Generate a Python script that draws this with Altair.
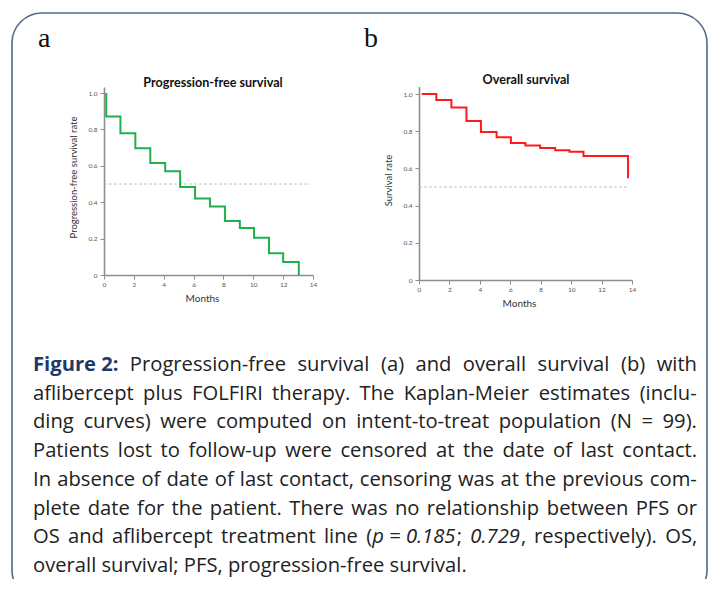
import altair as alt
import pandas as pd

# ---------------- data ----------------
pfs_months = [0.15, 0.15, 1.1, 2.1, 3.1, 4.1, 5.1, 6.1, 7.1, 8.1, 9.1, 10.05, 11.05, 12.0, 13.05]
pfs_rate = [1.0, 0.871, 0.779, 0.697, 0.616, 0.570, 0.483, 0.421, 0.376, 0.297, 0.258, 0.205, 0.120, 0.072, 0.0]

os_months = [0.18, 1.14, 2.13, 3.12, 4.07, 5.1, 6.04, 6.99, 7.96, 8.95, 9.89, 10.81, 13.74]
os_rate = [1.0, 0.968, 0.928, 0.855, 0.796, 0.767, 0.737, 0.723, 0.710, 0.698, 0.689, 0.667, 0.547]

x_ticks = [0, 2, 4, 6, 8, 10, 12, 14]
y_ticks = [0, 0.2, 0.4, 0.6, 0.8, 1.0]
median_level = [0.5]
median_span = [0, 13.8]

panel_titles = ["Progression-free survival", "Overall survival"]
y_titles = ["Progression-free survival rate", "Survival rate"]
x_title = "Months"
panel_letters = ["a", "b"]

caption_label = "Figure 2:"
caption_text = [
    "Progression-free survival (a) and overall survival (b) with",
    "aflibercept plus FOLFIRI therapy. The Kaplan-Meier estimates (inclu-",
    "ding curves) were computed on intent-to-treat population (N = 99).",
    "Patients lost to follow-up were censored at the date of last contact.",
    "In absence of date of last contact, censoring was at the previous com-",
    "plete date for the patient. There was no relationship between PFS or",
    None,
    "overall survival; PFS, progression-free survival.",
]
# line 7 with italic p-values: units separated by spaces, pieces inside a unit are glued
line7_units = [
    [("OS", "normal")], [("and", "normal")], [("aflibercept", "normal")],
    [("treatment", "normal")], [("line", "normal")],
    [("(", "normal"), ("p = 0.185", "italic"), (";", "normal")],
    [("0.729", "italic"), (",", "normal")],
    [("respectively).", "normal")], [("OS,", "normal")],
]

# ---------------- layout ----------------
W, H = 701, 571
LBL_FONT = "Lato"
CAP_FONT = "Open Sans"
CAP_SIZE = 20.2

# approximate Open Sans advance widths (per 1000 em) for word layout
_w = {" ": 260, "(": 296, ")": 296, ",": 245, "-": 322, ".": 266, ":": 266, ";": 266, "=": 571,
      "A": 633, "B": 648, "C": 631, "D": 729, "E": 556, "F": 516, "G": 728, "H": 738, "I": 279,
      "J": 267, "K": 613, "L": 519, "M": 907, "N": 754, "O": 779, "P": 602, "R": 618, "S": 549,
      "T": 553, "U": 731, "a": 556, "b": 613, "c": 476, "d": 613, "e": 561, "f": 336, "g": 541,
      "h": 615, "i": 258, "j": 258, "k": 536, "l": 258, "m": 935, "n": 615, "o": 601, "p": 613,
      "q": 613, "r": 408, "s": 479, "t": 353, "u": 615, "v": 500, "w": 772, "x": 520, "y": 500,
      "z": 468}
_k = {"bold": 1.06, "italic": 0.985, "normal": 1.0}


def tw(s, size, style="normal"):
    return sum(_w.get(c, 571) for c in s) / 1000.0 * size * _k[style]


pfs_df = pd.DataFrame({"month": pfs_months, "rate": pfs_rate, "i": list(range(len(pfs_months)))})
os_df = pd.DataFrame({"month": os_months, "rate": os_rate, "i": list(range(len(os_months)))})
med_df = pd.DataFrame({"x0": [median_span[0]], "x1": [median_span[1]], "y": median_level})
one = pd.DataFrame({"k": [0]})

fmt = "datum.value == 0 ? '0' : format(datum.value, '.1f')"


def panel(df, color, xr, yr, ydom_top, y_title, x_title_x, y_title_y):
    xs = alt.Scale(domain=[0, 14], range=xr, nice=False, zero=False)
    ys = alt.Scale(domain=[0, ydom_top], range=yr, nice=False, zero=False)
    common = dict(
        domainColor="#8f8f8f", domainWidth=1.6, tickColor="#8f8f8f", tickWidth=1,
        tickSize=4, labelFont=LBL_FONT, labelFontSize=6.5, labelColor="#555555",
        titleFont=LBL_FONT, titleFontWeight="normal", titleColor="#333333",
        grid=False, labelFlush=False,
    )
    xaxis = alt.Axis(
        orient="bottom", offset=yr[0] - H, values=x_ticks,
        labelPadding=2, title=x_title, titleFontSize=10,
        titleX=x_title_x, titleY=23, titleBaseline="middle", **common,
    )
    yaxis = alt.Axis(
        orient="left", offset=-xr[0], values=y_ticks, labelExpr=fmt,
        labelPadding=3, title=y_title, titleFontSize=9.5,
        titleX=-31, titleY=y_title_y, titleBaseline="middle", **common,
    )
    line = alt.Chart(df).mark_line(
        interpolate="step-after", color=color, strokeWidth=2
    ).encode(
        x=alt.X("month:Q", scale=xs, axis=xaxis),
        y=alt.Y("rate:Q", scale=ys, axis=yaxis),
        order="i:Q",
    )
    med = alt.Chart(med_df).mark_rule(
        color="#b5b5b5", strokeWidth=0.8, strokeDash=[3, 2]
    ).encode(
        x=alt.X("x0:Q", scale=xs, axis=None),
        x2="x1:Q",
        y=alt.Y("y:Q", scale=ys, axis=None),
    )
    return [med, line]


pA = panel(pfs_df, "#1fb04b", [96, 305], [267, 79], 1.033, y_titles[0], 194, 169)
pB = panel(os_df, "#ff1a1a", [411, 624], [272, 78.6], 1.04, y_titles[1], 511, 172)

frame = alt.Chart(one).mark_rect(
    cornerRadius=30, fillOpacity=0, stroke="#56688a", strokeWidth=1.6
).encode(x=alt.value(4), x2=alt.value(699), y=alt.value(5), y2=alt.value(592))


def txt(s, x, y, size, font, weight="normal", color="#222222", align="left",
        baseline="middle", style="normal"):
    return alt.Chart(one).mark_text(
        text=s, font=font, fontSize=size, fontWeight=weight, color=color,
        align=align, baseline=baseline, fontStyle=style,
    ).encode(x=alt.value(x), y=alt.value(y))


texts = [
    txt(panel_letters[0], 30, 39, 28, "Liberation Serif", baseline="alphabetic", color="#111111"),
    txt(panel_letters[1], 356, 39, 28, "Liberation Serif", baseline="alphabetic", color="#111111"),
    txt(panel_titles[0], 205, 75, 12.6, LBL_FONT, weight="bold", color="#111111", align="center"),
    txt(panel_titles[1], 518, 72, 12.6, LBL_FONT, weight="bold", color="#111111", align="center"),
]

# ---- caption laid out word by word (justified, last line ragged) ----
LEFT, RIGHT = 25, 689
words = []  # (text, x, y, style)
for li, line_text in enumerate(caption_text):
    y = 357 + li * 28.7
    last = li == len(caption_text) - 1
    if line_text is None:
        units = line7_units
    elif last:
        units = [[(line_text, "normal")]]
    else:
        units = [[(wd, "normal")] for wd in line_text.split(" ")]
        if li == 0:
            units = [[(caption_label, "bold")]] + units
    uw = [sum(tw(t, CAP_SIZE, s) for t, s in u) for u in units]
    if last or len(units) < 2:
        gap = tw(" ", CAP_SIZE)
    else:
        gap = (RIGHT - LEFT - sum(uw)) / (len(units) - 1)
    x = LEFT
    for u, w in zip(units, uw):
        xx = x
        for t, s in u:
            words.append((t, xx, y, s))
            xx += tw(t, CAP_SIZE, s)
        x += w + gap

cap_df = pd.DataFrame(words, columns=["w", "x", "y", "style"])


def cap_layer(style_key, weight, style, color):
    return alt.Chart(cap_df[cap_df["style"] == style_key]).mark_text(
        font=CAP_FONT, fontSize=CAP_SIZE, fontWeight=weight, fontStyle=style,
        color=color, align="left", baseline="middle",
    ).encode(
        x=alt.X("x:Q", scale=None, axis=None),
        y=alt.Y("y:Q", scale=None, axis=None),
        text="w:N",
    )


cap_layers = [
    cap_layer("bold", "bold", "normal", "#1f3a68"),
    cap_layer("normal", "normal", "normal", "#222222"),
    cap_layer("italic", "normal", "italic", "#222222"),
]

chart = alt.layer(frame, *pA, *pB, *texts, *cap_layers).resolve_scale(
    x="independent", y="independent"
).properties(
    width=W, height=H, autosize=alt.AutoSizeParams(type="none"), padding=0
).configure_view(stroke=None)

chart.save("out.html", embed_options={"renderer": "svg", "actions": False})
